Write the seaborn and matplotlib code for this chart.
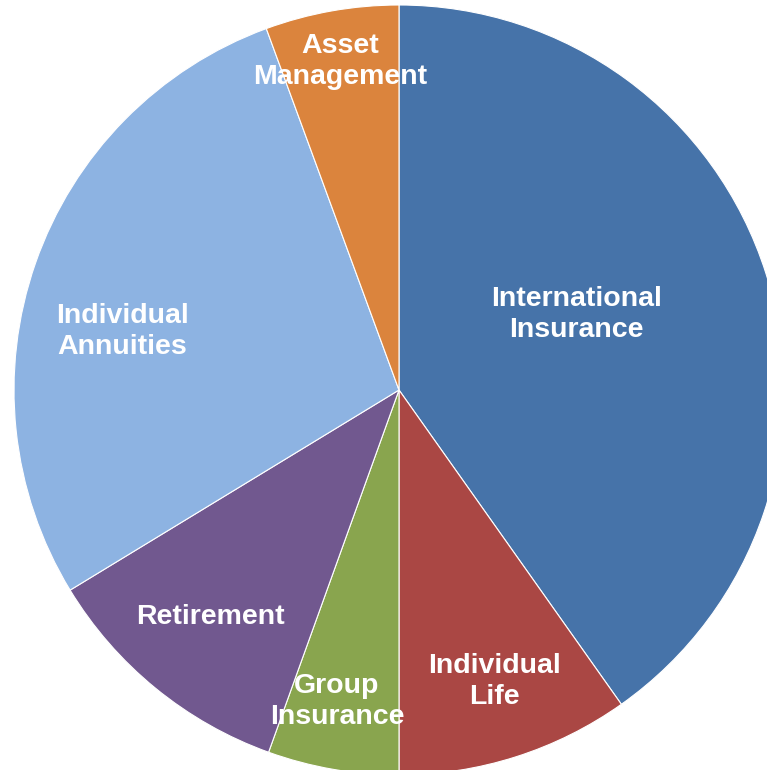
import matplotlib
matplotlib.use("Agg")
import matplotlib.pyplot as plt
import seaborn as sns

sns.set_theme(style="white")
plt.rcParams['font.family'] = ['Liberation Sans', 'DejaVu Sans']

segments = ["International\nInsurance", "Individual\nLife", "Group\nInsurance",
            "Retirement", "Individual\nAnnuities", "Asset\nManagement"]
shares = [40.2, 9.8, 5.5, 10.8, 28.1, 5.6]
colors = ["#4673A9", "#AA4744", "#89A54E", "#71588F", "#8DB3E2", "#DB843D"]
label_x = [0.462, 0.247, -0.161, -0.491, -0.719, -0.153]
label_y = [0.195, -0.756, -0.810, -0.590, 0.151, 0.852]

fig = plt.figure(figsize=(7.67, 7.70), dpi=100)
ax = fig.add_axes([14/767, -5/770, 770/767, 770/770])
ax.pie(shares, colors=colors, startangle=90, counterclock=False, radius=1,
       wedgeprops=dict(linewidth=0.8, edgecolor="white"))
for lbl, x, y in zip(segments, label_x, label_y):
    ax.text(x, y, lbl, ha="center", va="center", color="white",
            fontsize=20.5, fontweight="bold", linespacing=1.25)
ax.set_xlim(-1, 1)
ax.set_ylim(-1, 1)
ax.set_aspect("equal")
ax.axis("off")
fig.savefig("out.png", dpi=100)
